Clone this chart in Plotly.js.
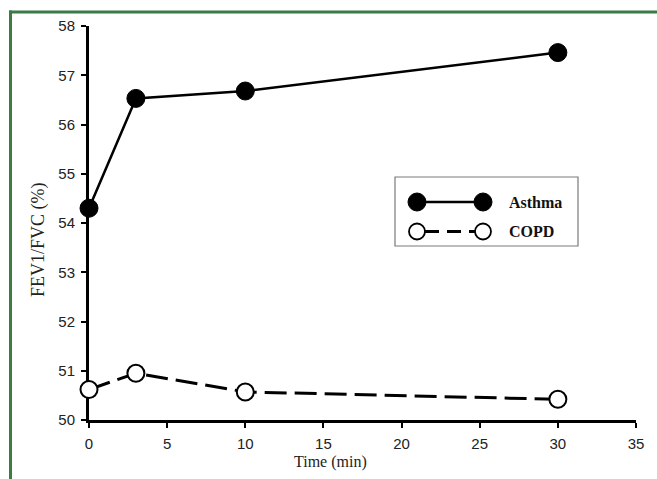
<!DOCTYPE html>
<html>
<head>
<meta charset="utf-8">
<script src="https://cdn.plot.ly/plotly-3.0.1.min.js"></script>
<style>
html,body{margin:0;padding:0;background:#fff;}
#chart{width:657px;height:479px;}
</style>
</head>
<body>
<div id="chart"></div>
<script>
// ---- data ----
const timeMin = [0, 3, 10, 30];
const asthma = [54.3, 56.53, 56.68, 57.46];
const copd = [50.62, 50.95, 50.57, 50.42];
const seriesNames = ['Asthma', 'COPD'];
const xTitle = 'Time (min)';
const yTitle = 'FEV1/FVC (%)';

// ---- layout geometry ----
const W = 657, H = 479;
const M = {l: 89, r: 21, t: 26, b: 59};
const PW = W - M.l - M.r, PH = H - M.t - M.b;
const px = x => (x - M.l) / PW;          // pixel -> paper x
const py = y => (H - M.b - y) / PH;      // pixel -> paper y

const serif = 'Liberation Serif, Times New Roman, serif';
const sans = 'Liberation Sans, Arial, sans-serif';

const traces = [
  {
    x: timeMin, y: asthma, name: seriesNames[0], type: 'scatter', mode: 'lines+markers',
    line: {color: '#000', width: 2.5},
    marker: {symbol: 'circle', size: 18, color: '#000', line: {color: '#000', width: 1}},
    cliponaxis: false, showlegend: false
  },
  {
    x: timeMin, y: copd, name: seriesNames[1], type: 'scatter', mode: 'lines+markers',
    line: {color: '#000', width: 3, dash: '22px,8px'},
    marker: {symbol: 'circle', size: 17, color: '#fff', line: {color: '#000', width: 2}},
    cliponaxis: false, showlegend: false
  }
];

const green = '#3b7b44';
const shapes = [
  // green frame (top and left)
  {type: 'line', xref: 'paper', yref: 'paper', x0: px(9), x1: px(W + 2), y0: py(12), y1: py(12), line: {color: green, width: 3}},
  {type: 'line', xref: 'paper', yref: 'paper', x0: px(10.5), x1: px(10.5), y0: py(10.5), y1: py(H + 2), line: {color: green, width: 3}},
  // legend box
  {type: 'rect', xref: 'paper', yref: 'paper', x0: px(395), x1: px(578), y0: py(246), y1: py(177), line: {color: '#7a7a7a', width: 1.2}, fillcolor: '#fff'},
  // asthma sample
  {type: 'line', xref: 'paper', yref: 'paper', x0: px(417), x1: px(483), y0: py(202), y1: py(202), line: {color: '#000', width: 2.5}},
  {type: 'circle', xref: 'paper', yref: 'paper', xsizemode: 'pixel', ysizemode: 'pixel', xanchor: px(417), yanchor: py(202), x0: -9, x1: 9, y0: -9, y1: 9, fillcolor: '#000', line: {color: '#000', width: 1}},
  {type: 'circle', xref: 'paper', yref: 'paper', xsizemode: 'pixel', ysizemode: 'pixel', xanchor: px(483), yanchor: py(202), x0: -9, x1: 9, y0: -9, y1: 9, fillcolor: '#000', line: {color: '#000', width: 1}},
  // copd sample
  {type: 'line', xref: 'paper', yref: 'paper', x0: px(425), x1: px(475), y0: py(231.5), y1: py(231.5), line: {color: '#000', width: 3, dash: '14px,8px'}},
  {type: 'circle', xref: 'paper', yref: 'paper', xsizemode: 'pixel', ysizemode: 'pixel', xanchor: px(417), yanchor: py(231.5), x0: -8, x1: 8, y0: -8, y1: 8, fillcolor: '#fff', line: {color: '#000', width: 1.8}},
  {type: 'circle', xref: 'paper', yref: 'paper', xsizemode: 'pixel', ysizemode: 'pixel', xanchor: px(483), yanchor: py(231.5), x0: -8, x1: 8, y0: -8, y1: 8, fillcolor: '#fff', line: {color: '#000', width: 1.8}}
];

const annotations = [
  {text: '<b>' + seriesNames[0] + '</b>', xref: 'paper', yref: 'paper', x: px(507), y: py(202), xanchor: 'left', yanchor: 'middle', showarrow: false, font: {family: serif, size: 16, color: '#111'}},
  {text: '<b>' + seriesNames[1] + '</b>', xref: 'paper', yref: 'paper', x: px(507), y: py(231.5), xanchor: 'left', yanchor: 'middle', showarrow: false, font: {family: serif, size: 16, color: '#111'}},
  {text: xTitle, xref: 'paper', yref: 'paper', x: px(330), y: py(462), xanchor: 'center', yanchor: 'middle', showarrow: false, font: {family: serif, size: 16, color: '#222'}},
  {text: yTitle, xref: 'paper', yref: 'paper', x: px(39), y: py(240), xanchor: 'center', yanchor: 'middle', textangle: -90, showarrow: false, font: {family: serif, size: 18, color: '#222'}}
];

const axisCommon = {
  showline: true, linecolor: '#000', linewidth: 3, mirror: false,
  ticks: 'outside', ticklen: 5, tickwidth: 2, tickcolor: '#000',
  showgrid: false, zeroline: false, layer: 'below traces',
  tickfont: {family: sans, size: 15, color: '#222'}, fixedrange: true
};

const layout = {
  width: W, height: H,
  margin: M,
  paper_bgcolor: '#fff', plot_bgcolor: '#fff',
  showlegend: false,
  xaxis: Object.assign({}, axisCommon, {range: [0, 35], tick0: 0, dtick: 5, ticklabelstandoff: 3}),
  yaxis: Object.assign({}, axisCommon, {range: [50, 58], tick0: 50, dtick: 1, ticklabelstandoff: 3}),
  shapes: shapes,
  annotations: annotations
};

Plotly.newPlot('chart', traces, layout, {displayModeBar: false, staticPlot: true});
</script>
</body>
</html>
